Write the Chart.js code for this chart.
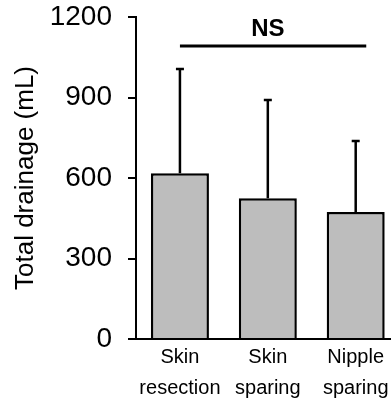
<!DOCTYPE html>
<html lang="en">
<head>
<meta charset="UTF-8">
<title>Total drainage</title>
<script src="https://cdn.jsdelivr.net/npm/chart.js"></script>
<style>
  html, body { margin: 0; padding: 0; background: #fff; }
  #wrap { width: 391px; height: 398px; }
</style>
</head>
<body>
<div id="wrap"><canvas id="drainChart"></canvas></div>
<script>
// data
const groups = [['Skin', 'resection'], ['Skin', 'sparing'], ['Nipple', 'sparing']];
const meanDrainage = [618, 525, 473];
const sdDrainage = [388, 366, 265];   // upper error bar only
const yTicks = [0, 300, 600, 900, 1200];

// significance bar over the groups
const sigText = 'NS';
const sigFrom = 0;
const sigTo = 2.12;
const sigLevel = 1092;

Chart.defaults.font.family = '"Liberation Sans", Arial, sans-serif';
Chart.defaults.color = '#000';

// draws the SD whiskers and the NS bracket
const extras = {
  id: 'extras',
  afterDatasetsDraw(chart) {
    const { ctx, scales: { x, y } } = chart;
    ctx.save();
    ctx.strokeStyle = '#000';
    ctx.lineWidth = 2.5;
    meanDrainage.forEach((m, i) => {
      const px = x.getPixelForValue(i);
      const base = y.getPixelForValue(m);
      const top = y.getPixelForValue(m + sdDrainage[i]);
      ctx.beginPath();
      ctx.moveTo(px, base);
      ctx.lineTo(px, top);
      ctx.moveTo(px - 4, top);
      ctx.lineTo(px + 4, top);
      ctx.stroke();
    });

    const ly = y.getPixelForValue(sigLevel);
    ctx.lineWidth = 3;
    ctx.beginPath();
    ctx.moveTo(x.getPixelForValue(sigFrom), ly);
    ctx.lineTo(x.getPixelForValue(sigTo), ly);
    ctx.stroke();

    ctx.fillStyle = '#000';
    ctx.font = 'bold 24px "Liberation Sans", Arial, sans-serif';
    ctx.textAlign = 'center';
    ctx.textBaseline = 'alphabetic';
    ctx.fillText(sigText, x.getPixelForValue(1), ly - 10);
    ctx.restore();
  }
};

const ctx = document.getElementById('drainChart').getContext('2d');
new Chart(ctx, {
  type: 'bar',
  data: {
    datasets: [{
      data: meanDrainage.map((v, i) => ({ x: i, y: v })),
      backgroundColor: '#bdbdbd',
      borderColor: '#000',
      borderWidth: 2.5,
      categoryPercentage: 1,
      barPercentage: 0.66
    }]
  },
  options: {
    responsive: true,
    maintainAspectRatio: false,
    animation: false,
    layout: { padding: 0 },
    plugins: {
      legend: { display: false },
      tooltip: { enabled: false }
    },
    scales: {
      x: {
        type: 'linear',
        offset: false,
        min: -0.5,
        max: 2.4,
        afterBuildTicks: s => { s.ticks = groups.map((g, i) => ({ value: i })); },
        afterFit: s => { s.height = 59; },
        grid: { drawOnChartArea: false, drawTicks: false },
        border: { display: true, color: '#000', width: 2 },
        ticks: {
          callback: v => groups[v],
          font: { size: 20, lineHeight: 1.55 },
          padding: 2.5,
          maxRotation: 0
        }
      },
      y: {
        min: 0,
        max: 1200,
        afterBuildTicks: s => { s.ticks = yTicks.map(v => ({ value: v })); },
        afterFit: s => { s.width = 136; s.paddingTop = 17; s.paddingBottom = 0; },
        grid: { drawOnChartArea: false, drawTicks: true, tickLength: 8, color: '#000', lineWidth: 2 },
        border: { display: true, color: '#000', width: 2 },
        ticks: { font: { size: 28 }, padding: 16, callback: v => String(v) },
        title: {
          display: true,
          text: 'Total drainage (mL)',
          font: { size: 26 },
          padding: { top: 10, bottom: 0 }
        }
      }
    }
  },
  plugins: [extras]
});
</script>
</body>
</html>
